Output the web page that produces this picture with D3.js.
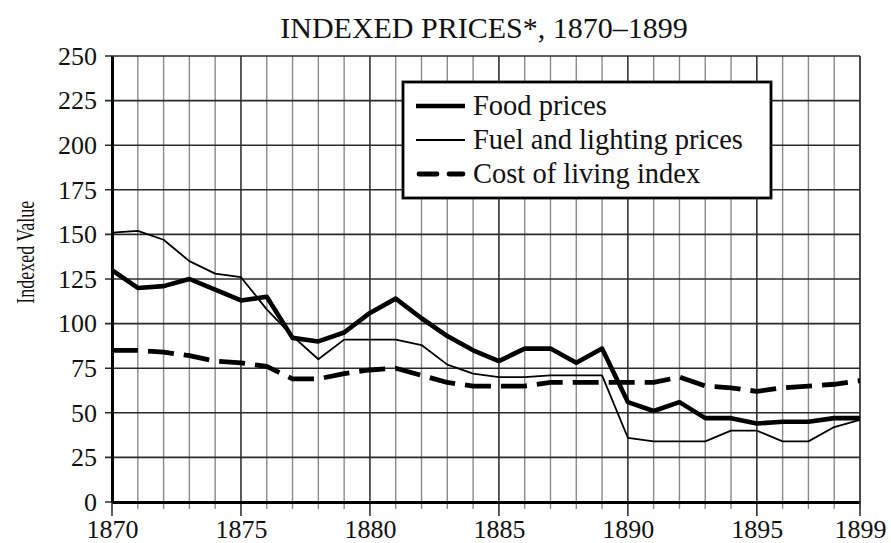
<!DOCTYPE html>
<html>
<head>
<meta charset="utf-8">
<script src="https://cdn.jsdelivr.net/npm/d3@7"></script>
<style>
  body { margin: 0; background: #fff; }
  #canvas { width: 891px; height: 543px; }
</style>
</head>
<body>
<div id="canvas"></div>
<script>
// values, one per year 1870..1899
const years = d3.range(1870, 1900);
const foodPrices = [130, 120, 121, 125, 119, 113, 115, 92, 90, 95, 106, 114, 103, 93, 85,
  79, 86, 86, 78, 86, 56, 51, 56, 47, 47, 44, 45, 45, 47, 47];
const fuelPrices = [151, 152, 147, 135, 128, 126, 108, 93, 80, 91, 91, 91, 88, 77, 72,
  70, 70, 71, 71, 71, 36, 34, 34, 34, 40, 40, 34, 34, 42, 46];
const costOfLiving = [85, 85, 84, 82, 79, 78, 76, 69, 69, 72, 74, 75, 71, 67, 65,
  65, 65, 67, 67, 67, 67, 67, 70, 65, 64, 62, 64, 65, 66, 68];
const yTicks = d3.range(0, 251, 25);
const xTickLabels = [1870, 1875, 1880, 1885, 1890, 1895, 1899];
const seriesNames = ['Food prices', 'Fuel and lighting prices', 'Cost of living index'];

const FONT = '"Liberation Serif", "Times New Roman", serif';
const canvas = document.getElementById('canvas');
const width = 891, height = 543;
const margin = { top: 56, left: 112, right: 31, bottom: 41 };

const svg = d3.select(canvas).append('svg')
    .attr('width', width)
    .attr('height', height)
    .attr('viewBox', [0, 0, width, height])
    .attr('font-family', FONT);

const xScale = d3.scaleLinear()
    .domain([1870, 1899])
    .range([margin.left, width - margin.right]);

const yScale = d3.scaleLinear()
    .domain([0, 250])
    .range([height - margin.bottom, margin.top]);

// vertical grid, one line per year, darker every 5 years
svg.append('g')
    .selectAll('line')
    .data(years)
    .join('line')
    .attr('x1', d => xScale(d))
    .attr('x2', d => xScale(d))
    .attr('y1', yScale(250))
    .attr('y2', d => yScale(0) + (d % 5 === 0 ? 14 : 7))
    .attr('stroke', d => d % 5 === 0 ? '#333' : '#8a8a8a')
    .attr('stroke-width', d => d % 5 === 0 ? 1.6 : 1.4);

// horizontal grid
svg.append('g')
    .selectAll('line')
    .data(yTicks)
    .join('line')
    .attr('x1', xScale(1870) - 7)
    .attr('x2', xScale(1899))
    .attr('y1', d => yScale(d))
    .attr('y2', d => yScale(d))
    .attr('stroke', '#2a2a2a')
    .attr('stroke-width', 1.6);

// axes
svg.append('g')
    .attr('id', 'y-axis')
    .attr('transform', `translate(${margin.left},0)`)
    .call(d3.axisLeft(yScale).tickValues(yTicks).tickSize(0).tickPadding(15))
    .call(g => g.select('.domain').attr('stroke', '#000').attr('stroke-width', 3))
    .call(g => g.selectAll('text').attr('font-size', 26).attr('font-family', FONT).attr('fill', '#111'));

svg.append('g')
    .attr('id', 'x-axis')
    .attr('transform', `translate(0,${height - margin.bottom})`)
    .call(d3.axisBottom(xScale).tickValues(xTickLabels).tickFormat(d3.format('d')).tickSize(0).tickPadding(18))
    .call(g => g.select('.domain').attr('stroke', '#000').attr('stroke-width', 3))
    .call(g => g.selectAll('text').attr('font-size', 26).attr('font-family', FONT).attr('fill', '#111'));

// right border
svg.append('line')
    .attr('x1', xScale(1899)).attr('x2', xScale(1899))
    .attr('y1', yScale(250)).attr('y2', yScale(0) + 14)
    .attr('stroke', '#333').attr('stroke-width', 1.6);

// series
const line = d3.line()
    .x((d, i) => xScale(years[i]))
    .y(d => yScale(d));

const dataRegion = svg.append('g').attr('id', 'data');

const styles = [
  { data: foodPrices, width: 4.6, dash: null },
  { data: fuelPrices, width: 1.8, dash: null },
  { data: costOfLiving, width: 4.8, dash: '26,10' }
];

dataRegion.selectAll('path')
    .data(styles)
    .join('path')
    .attr('d', d => line(d.data))
    .attr('fill', 'none')
    .attr('stroke', '#000')
    .attr('stroke-width', d => d.width)
    .attr('stroke-linejoin', 'round')
    .attr('stroke-dasharray', d => d.dash);

// legend
const legend = svg.append('g').attr('transform', 'translate(403,82)');
legend.append('rect')
    .attr('width', 368)
    .attr('height', 116)
    .attr('fill', '#fff')
    .attr('stroke', '#000')
    .attr('stroke-width', 2.8);

const rows = legend.selectAll('g.row')
    .data(styles)
    .join('g')
    .attr('class', 'row')
    .attr('transform', (d, i) => `translate(0,${24 + i * 34})`);

rows.append('line')
    .attr('x1', d => d.dash ? 16 : 13).attr('x2', d => d.dash ? 60 : 62)
    .attr('stroke', '#000')
    .attr('stroke-width', d => d.width)
    .attr('stroke-linecap', d => d.dash ? 'round' : 'butt')
    .attr('stroke-dasharray', d => d.dash ? '18,12' : null);

rows.append('text')
    .attr('x', 70)
    .attr('y', 9)
    .attr('font-size', 28.5)
    .attr('fill', '#111')
    .text((d, i) => seriesNames[i]);

// title
svg.append('text')
    .attr('x', 484)
    .attr('y', 38)
    .attr('text-anchor', 'middle')
    .attr('font-size', 30)
    .attr('fill', '#111')
    .text('INDEXED PRICES*, 1870–1899');

svg.append('text')
    .attr('transform', `translate(34,${yScale(140)}) rotate(-90) scale(0.72,1)`)
    .attr('text-anchor', 'middle')
    .attr('font-size', 25)
    .attr('fill', '#111')
    .text('Indexed Value');
</script>
</body>
</html>
